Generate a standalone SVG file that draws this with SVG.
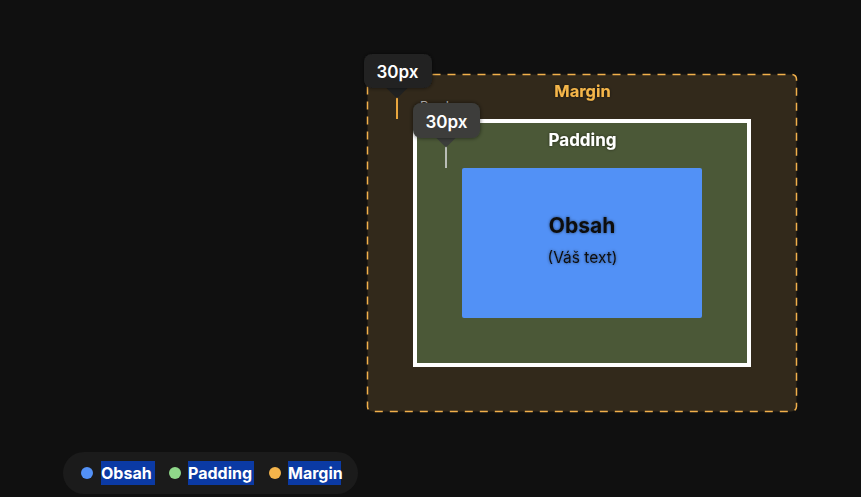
<svg xmlns="http://www.w3.org/2000/svg" width="861" height="497" viewBox="0 0 861 497">
<defs>
<style>
text{font-family:Inter,"Open Sans","Liberation Sans",sans-serif;}
.lbl{font-weight:700;}
.tip{fill:#ffffff;font-size:17px;font-weight:600;text-anchor:middle;}
.leg{fill:#ffffff;font-size:16px;font-weight:700;}
.hl{fill:#0b3aa4;}
</style>
<filter id="glow" x="-30%" y="-40%" width="160%" height="180%">
<feGaussianBlur in="SourceAlpha" stdDeviation="3"/>
<feFlood flood-color="#000" flood-opacity="0.6"/>
<feComposite operator="in" in2="SourceAlpha"/>
<feGaussianBlur stdDeviation="2"/>
<feMerge><feMergeNode/><feMergeNode in="SourceGraphic"/></feMerge>
</filter>
<filter id="tshadow" x="-20%" y="-40%" width="140%" height="180%">
<feGaussianBlur in="SourceAlpha" stdDeviation="1.5" result="b"/>
<feFlood flood-color="#000" flood-opacity="0.55"/>
<feComposite operator="in" in2="b"/>
<feMerge><feMergeNode/><feMergeNode in="SourceGraphic"/></feMerge>
</filter>
</defs>
<rect width="861" height="497" fill="#101010"/>

<g id="margin">
<rect x="367.5" y="74.5" width="429" height="337" rx="5" fill="#32291b" stroke="#f1b04b" stroke-width="1.5" stroke-dasharray="8 7"/>
<text x="582.5" y="97" class="lbl" font-size="16.5" fill="#f5b64a" text-anchor="middle" filter="url(#tshadow)">Margin</text>
</g>

<g id="border">
<text x="420" y="111" font-size="13" fill="#c4c4c4">Border</text>
<rect x="415" y="121" width="334" height="244" fill="#4b5837" stroke="#ffffff" stroke-width="4"/>
</g>

<g id="padding">
<text x="582.5" y="146" class="lbl" font-size="17" fill="#ffffff" text-anchor="middle" filter="url(#tshadow)">Padding</text>
</g>

<g id="obsah">
<rect x="462" y="168" width="240" height="150" rx="2" fill="#5291f6"/>
<text x="582" y="233" class="lbl" font-size="21" fill="#111111" text-anchor="middle" filter="url(#tshadow)">Obsah</text>
<text x="582.5" y="263" font-size="15.5" fill="#111111" text-anchor="middle" filter="url(#tshadow)">(Váš text)</text>
</g>

<g id="connectors">
<line x1="397" y1="88" x2="397" y2="119" stroke="#e9a63e" stroke-width="2"/>
<line x1="446" y1="137" x2="446" y2="168" stroke="#b9bdb6" stroke-width="2"/>
</g>

<g id="tip-margin">
<rect x="389.5" y="80.5" width="15" height="15" fill="#202121" transform="rotate(45 397 88)"/>
<rect x="364" y="54" width="68" height="34" rx="8" fill="#202121" filter="url(#glow)"/>
<text x="397.5" y="78" class="tip">30px</text>
</g>

<g id="tip-padding">
<rect x="438.5" y="129.5" width="15" height="15" fill="#3c3e3b" transform="rotate(45 446 137)"/>
<rect x="413" y="103" width="67" height="35" rx="8" fill="#3c3e3b" filter="url(#glow)"/>
<text x="446.5" y="128" class="tip">30px</text>
</g>

<g id="legend">
<rect x="63" y="452" width="295" height="42" rx="21" fill="#1b1b1b"/>
<circle cx="87" cy="473" r="6" fill="#5391f6"/>
<rect x="101" y="461" width="54" height="24" class="hl"/>
<text x="101" y="478.5" class="leg">Obsah</text>
<circle cx="175" cy="473" r="6" fill="#8fd88a"/>
<rect x="188" y="461" width="66" height="24" class="hl"/>
<text x="188" y="478.5" class="leg">Padding</text>
<circle cx="275" cy="473" r="6" fill="#f4b44b"/>
<rect x="288" y="461" width="53" height="24" class="hl"/>
<text x="288" y="478.5" class="leg">Margin</text>
</g>
</svg>
